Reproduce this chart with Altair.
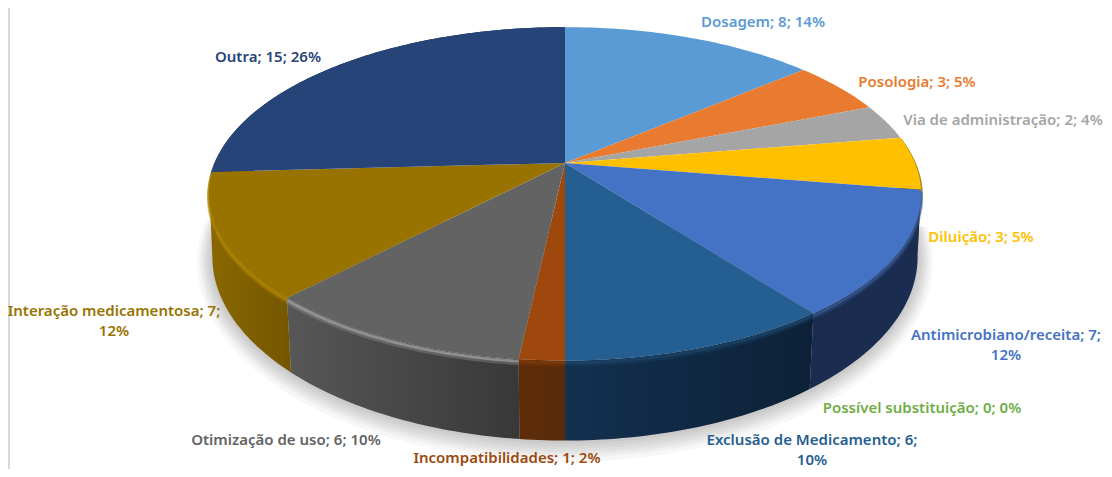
import math
import altair as alt

# ---- data ----
categories = ["Dosagem", "Posologia", "Via de administração", "Diluição",
              "Antimicrobiano/receita", "Possível substituição",
              "Exclusão de Medicamento", "Incompatibilidades",
              "Otimização de uso", "Interação medicamentosa", "Outra"]
values = [8, 3, 2, 3, 7, 0, 6, 1, 6, 7, 15]
percents = [14, 5, 4, 5, 12, 0, 10, 2, 10, 12, 26]
top_colors = ["#5B9BD5", "#E97B30", "#A5A5A5", "#FFC000", "#4472C4", "#70AD47",
              "#255E91", "#9E480E", "#636363", "#997300", "#264478"]
text_colors = ["#5B9BD5", "#ED7D31", "#A5A5A5", "#FFC000", "#4472C4", "#70AD47",
               "#255E91", "#9E480E", "#636363", "#997300", "#264478"]
wall_left = ["#2d4d6a", "#2d4d6a", "#555555", "#6b5200", "#1A2C50", "#3a5a25",
             "#13304f", "#5E2C09", "#575757", "#8a6800", "#1A2C50"]
wall_right = ["#2d4d6a", "#2d4d6a", "#555555", "#6b5200", "#1A2C50", "#3a5a25",
              "#0c2137", "#5A2A08", "#383838", "#735700", "#1A2C50"]
lip_colors = ["#5B9BD5", "#E97B30", "#A5A5A5", "#9a7400", "#37598f", "#70AD47",
              "#1b4468", "#7e3a0b", "#9c9c9c", "#b08500", "#264478"]
label_lines = [["Dosagem; 8; 14%"], ["Posologia; 3; 5%"], ["Via de administração; 2; 4%"],
               ["Diluição; 3; 5%"], ["Antimicrobiano/receita; 7;", "12%"],
               ["Possível substituição; 0; 0%"], ["Exclusão de Medicamento; 6;", "10%"],
               ["Incompatibilidades; 1; 2%"], ["Otimização de uso; 6; 10%"],
               ["Interação medicamentosa; 7;", "12%"], ["Outra; 15; 26%"]]
label_x = [763, 917, 1003, 981, 1006, 922, 812, 507, 286, 114, 268]
label_y = [22, 82, 120, 237, 335, 408, 440, 458, 440, 311, 57]
line_gap = [20, 20, 20, 20, 20, 20, 20, 20, 20, 20, 20]

W, H = 1096, 461
CX = 565
TOP = dict(A=350, B=161, k=0.185, cy=163)
BOT = dict(A=347, B=178, k=0.178, cy=224)


def proj(theta_deg, g, grow=0.0):
    t = math.radians(theta_deg)
    u, v = math.sin(t), -math.cos(t)
    d = 1 - g["k"] * v
    return (CX + (g["A"] + grow) * u / d, g["cy"] + (g["B"] + grow) * v / d)


def arc(a, b, g, grow=0.0, dy=0.0):
    n = max(2, int(abs(b - a)) + 2)
    pts = [proj(a + (b - a) * i / (n - 1), g, grow) for i in range(n)]
    return [(x, y + dy) for x, y in pts]


total = sum(values)
edges = [0.0]
for val in values:
    edges.append(edges[-1] + val / total * 360)

x_scale = alt.Scale(domain=[8, 8 + W], range=[0, W], nice=False, zero=False)
y_scale = alt.Scale(domain=[8, 8 + H], range=[0, H], nice=False, zero=False)
X = alt.X("x:Q", scale=x_scale, axis=None)
Y = alt.Y("y:Q", scale=y_scale, axis=None)
ORD = alt.Order("i:Q")


def recs(pts, **extra):
    return [dict(x=p[0], y=p[1], i=i, **extra) for i, p in enumerate(pts)]


layers = []

# frame line on the left
layers.append(alt.Chart(alt.Data(values=[{"x": 9}])).mark_rule(color="#d9d9d9", strokeWidth=2)
              .encode(x=X))

# soft shadow under the pie
for grow in [15, 12, 10, 8, 6, 4, 2]:
    pts = arc(90, 272, BOT, grow=grow, dy=grow * 0.2)
    layers.append(alt.Chart(alt.Data(values=recs(pts))).mark_line(
        filled=True, fill="#000000", fillOpacity=0.03, strokeWidth=0)
        .encode(x=X, y=Y, order=ORD))

# side wall, one piece per slice
for i, name in enumerate(categories):
    a, b = edges[i], edges[i + 1]
    if values[i] == 0 or b < 85 or a > 280:
        continue
    if name == "Interação medicamentosa":
        pts = arc(a, 262, TOP) + arc(258, a, BOT)
    else:
        pts = arc(a, b, TOP) + arc(b, a, BOT)
    pts.append(pts[0])
    fill = alt.Gradient(gradient="linear", x1=0, x2=1, y1=0, y2=0,
                        stops=[alt.GradientStop(offset=0, color=wall_left[i]),
                               alt.GradientStop(offset=1, color=wall_right[i])])
    layers.append(alt.Chart(alt.Data(values=recs(pts))).mark_line(
        filled=True, fill=fill, strokeWidth=0).encode(x=X, y=Y, order=ORD))

# rounded lip along the front edge
for i, name in enumerate(categories):
    a, b = edges[i], edges[i + 1]
    if values[i] == 0 or b < 85 or a > 280:
        continue
    for dy, sw, op in [(4, 4, 0.35), (2, 3, 0.8)]:
        pts = arc(a, b, TOP, dy=dy)
        layers.append(alt.Chart(alt.Data(values=recs(pts))).mark_line(
            color=lip_colors[i], strokeWidth=sw, opacity=op, strokeCap="butt")
            .encode(x=X, y=Y, order=ORD))

# top face
top_rows = []
for i, name in enumerate(categories):
    if values[i] == 0:
        continue
    a, b = edges[i], edges[i + 1]
    pts = [(CX, TOP["cy"])] + arc(a, b, TOP) + [(CX, TOP["cy"])]
    top_rows += recs(pts, name=name)
layers.append(alt.Chart(alt.Data(values=top_rows)).mark_line(filled=True, strokeWidth=0).encode(
    x=X, y=Y, order=ORD,
    color=alt.Color("name:N", scale=alt.Scale(domain=categories, range=top_colors), legend=None)))

# labels
label_rows = []
for i, name in enumerate(categories):
    for j, line in enumerate(label_lines[i]):
        label_rows.append({"x": label_x[i], "y": label_y[i] + j * line_gap[i], "t": line, "name": name})
layers.append(alt.Chart(alt.Data(values=label_rows)).mark_text(
    font="Noto Sans", fontSize=15, fontWeight=600, align="center", baseline="middle").encode(
    x=X, y=Y, text="t:N",
    color=alt.Color("name:N", scale=alt.Scale(domain=categories, range=text_colors), legend=None)))

chart = alt.layer(*layers).properties(
    width=W, height=H, padding=0, background="#ffffff", autosize=alt.AutoSizeParams(type="none")
).configure_view(stroke=None)
chart.save("out.html", embed_options={"renderer": "svg", "actions": False})
